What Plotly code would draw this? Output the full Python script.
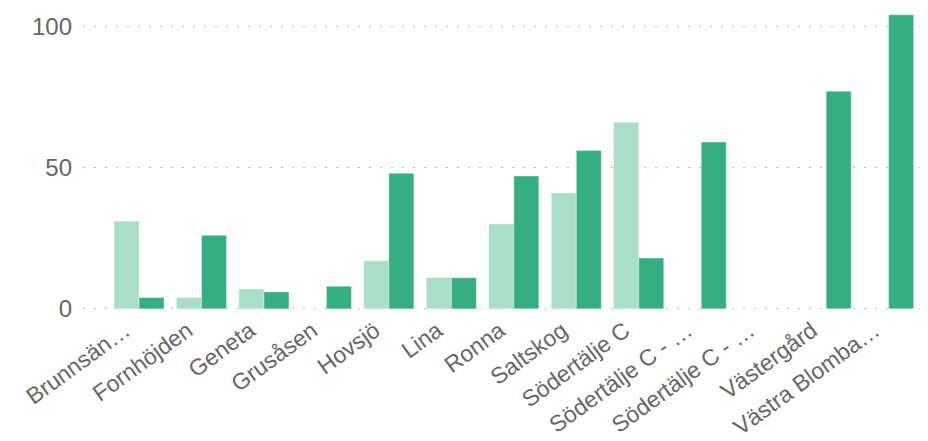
import plotly.graph_objects as go

categories = ["Brunnsän…", "Fornhöjden", "Geneta", "Grusåsen", "Hovsjö", "Lina", "Ronna",
              "Saltskog", "Södertälje C", "Södertälje C - …", "Södertälje C - …",
              "Västergård", "Västra Blomba…"]
series_light = [31, 4, 7, None, 17, 11, 30, 41, 66, None, None, None, None]
series_dark = [4, 26, 6, 8, 48, 11, 47, 56, 18, 59, None, 77, 104]
y_ticks = [0, 50, 100]

positions = list(range(len(categories)))

fig = go.Figure()
fig.add_trace(go.Bar(x=positions, y=series_light, marker_color="#A9DEC9", name="A"))
fig.add_trace(go.Bar(x=positions, y=series_dark, marker_color="#35AF82", name="B"))

# page body has an 8px default margin, so the figure is sized to fit inside it
fig.update_layout(
    width=920, height=433,
    margin=dict(l=75, r=0, t=4, b=131),
    barmode="group", bargap=0.2, bargroupgap=0,
    plot_bgcolor="white", paper_bgcolor="white",
    showlegend=False,
    font=dict(family="Arial", color="#666666"),
)
fig.update_xaxes(
    tickmode="array", tickvals=positions, ticktext=categories,
    tickangle=-36, tickfont=dict(size=23, color="#666666"),
    range=[-0.897, 12.63], showgrid=False, zeroline=False, showline=False, ticks="",
    automargin=False, ticklabelshift=-14, ticklabelstandoff=2,
)
fig.update_yaxes(
    tickmode="array", tickvals=y_ticks, range=[-0.4, 105],
    tickfont=dict(size=24, color="#666666"),
    showgrid=True, gridcolor="#BDBDBD", griddash="2px,9px", gridwidth=1,
    zeroline=False, showline=False, ticks="", ticklabelstandoff=10,
    automargin=False,
)
fig.write_html("out.html")
